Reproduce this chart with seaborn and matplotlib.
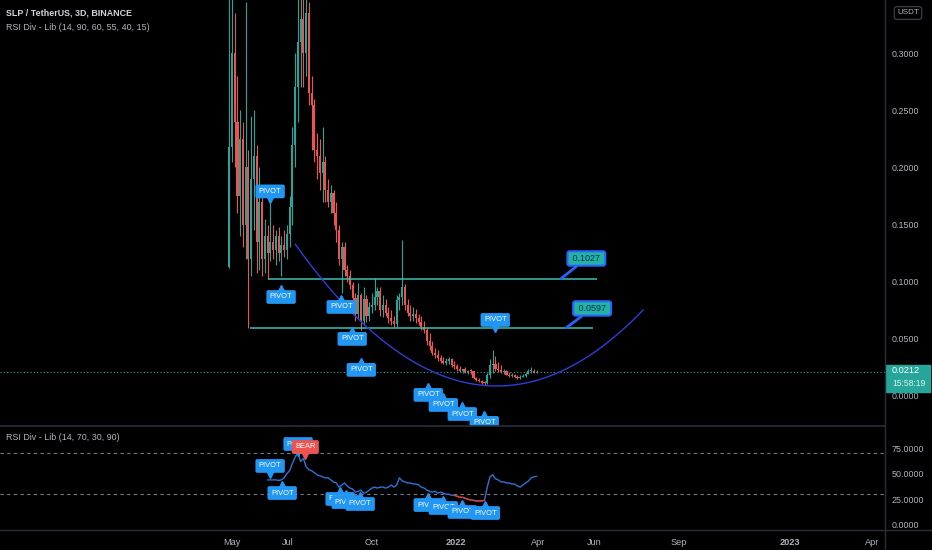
import numpy as np
import pandas as pd
import matplotlib
matplotlib.use('Agg')
import matplotlib.pyplot as plt
import matplotlib.dates as mdates
import matplotlib.transforms as mtransforms
from matplotlib.lines import Line2D
from matplotlib.patches import Rectangle
import seaborn as sns

# ---------------- data ----------------
start_date = '2021-04-28'      # first 3D candle
bar_days = 3

opens = [0.113, 0.218, 0.30, 0.24, 0.175, 0.225, 0.15, 0.20, 0.12, 0.19,
         0.21, 0.135, 0.17, 0.12, 0.14, 0.125, 0.135, 0.128, 0.14, 0.125,
         0.132, 0.128, 0.142, 0.165, 0.22, 0.27, 0.31, 0.33, 0.30, 0.335,
         0.265, 0.255, 0.215, 0.21, 0.195, 0.205, 0.18, 0.17, 0.178, 0.16,
         0.145, 0.12, 0.13, 0.11, 0.105, 0.097, 0.086, 0.072, 0.088, 0.066,
         0.085, 0.07, 0.078, 0.08, 0.087, 0.092, 0.075, 0.08, 0.073, 0.068,
         0.066, 0.063, 0.084, 0.087, 0.095, 0.08, 0.073, 0.07, 0.072, 0.068,
         0.065, 0.06, 0.058, 0.048, 0.044, 0.038, 0.036, 0.033, 0.031, 0.029,
         0.031, 0.032, 0.027, 0.026, 0.024, 0.022, 0.0235, 0.021, 0.022, 0.0215,
         0.016, 0.014, 0.013, 0.0115, 0.011, 0.018, 0.027, 0.028, 0.024, 0.023,
         0.021, 0.022, 0.0185, 0.0175, 0.0185, 0.0165, 0.0155, 0.017, 0.0175, 0.0195,
         0.0215, 0.022, 0.0205]
highs = [0.36, 0.36, 0.335, 0.28, 0.25, 0.24, 0.345, 0.215, 0.245, 0.25,
         0.22, 0.20, 0.18, 0.155, 0.15, 0.169, 0.15, 0.145, 0.148, 0.14,
         0.145, 0.15, 0.175, 0.235, 0.30, 0.36, 0.36, 0.36, 0.35, 0.345,
         0.28, 0.26, 0.23, 0.225, 0.235, 0.21, 0.19, 0.185, 0.18, 0.17,
         0.15, 0.135, 0.135, 0.115, 0.11, 0.10, 0.09, 0.099, 0.09, 0.095,
         0.088, 0.082, 0.09, 0.103, 0.095, 0.095, 0.088, 0.085, 0.078, 0.075,
         0.07, 0.088, 0.09, 0.1365, 0.098, 0.085, 0.08, 0.078, 0.076, 0.072,
         0.07, 0.066, 0.06, 0.055, 0.048, 0.042, 0.04, 0.036, 0.034, 0.033,
         0.034, 0.033, 0.031, 0.028, 0.026, 0.024, 0.025, 0.023, 0.0235, 0.022,
         0.017, 0.016, 0.014, 0.013, 0.02, 0.032, 0.040, 0.035, 0.03, 0.027,
         0.024, 0.023, 0.021, 0.02, 0.019, 0.018, 0.018, 0.019, 0.021, 0.024,
         0.025, 0.024, 0.023]
lows = [0.112, 0.205, 0.20, 0.16, 0.14, 0.13, 0.12, 0.0597, 0.105, 0.145,
        0.108, 0.11, 0.105, 0.108, 0.1027, 0.118, 0.12, 0.115, 0.118, 0.105,
        0.122, 0.12, 0.13, 0.15, 0.20, 0.24, 0.27, 0.27, 0.28, 0.255,
        0.215, 0.205, 0.19, 0.18, 0.17, 0.17, 0.165, 0.16, 0.15, 0.135,
        0.115, 0.09, 0.105, 0.10, 0.094, 0.083, 0.066, 0.068, 0.058, 0.062,
        0.065, 0.066, 0.073, 0.075, 0.08, 0.07, 0.069, 0.07, 0.064, 0.062,
        0.06, 0.06, 0.075, 0.08, 0.075, 0.07, 0.066, 0.066, 0.064, 0.062,
        0.058, 0.055, 0.045, 0.04, 0.036, 0.033, 0.031, 0.029, 0.028, 0.027,
        0.028, 0.025, 0.024, 0.022, 0.021, 0.0205, 0.02, 0.0195, 0.019, 0.015,
        0.0135, 0.012, 0.0105, 0.0095, 0.0105, 0.016, 0.02, 0.022, 0.021, 0.02,
        0.0195, 0.018, 0.017, 0.0165, 0.016, 0.015, 0.015, 0.0162, 0.017, 0.019,
        0.02, 0.02, 0.0198]
closes = [0.218, 0.30, 0.24, 0.175, 0.225, 0.15, 0.20, 0.12, 0.19, 0.21,
          0.135, 0.17, 0.12, 0.14, 0.125, 0.135, 0.128, 0.14, 0.125, 0.132,
          0.128, 0.142, 0.165, 0.22, 0.27, 0.31, 0.33, 0.30, 0.335, 0.265,
          0.255, 0.215, 0.21, 0.195, 0.205, 0.18, 0.17, 0.178, 0.16, 0.145,
          0.12, 0.13, 0.11, 0.105, 0.097, 0.086, 0.072, 0.088, 0.066, 0.085,
          0.07, 0.078, 0.08, 0.087, 0.092, 0.075, 0.08, 0.073, 0.068, 0.066,
          0.063, 0.084, 0.087, 0.095, 0.08, 0.073, 0.07, 0.072, 0.068, 0.065,
          0.06, 0.058, 0.048, 0.044, 0.038, 0.036, 0.033, 0.031, 0.029, 0.031,
          0.032, 0.027, 0.026, 0.024, 0.022, 0.0235, 0.021, 0.022, 0.0215, 0.016,
          0.014, 0.013, 0.0115, 0.011, 0.018, 0.027, 0.028, 0.024, 0.023, 0.021,
          0.022, 0.0185, 0.0175, 0.0185, 0.0165, 0.0155, 0.017, 0.0175, 0.0195, 0.0215,
          0.022, 0.0205, 0.0212]

rsi_first_bar = 14
rsi_values = [44, 44, 44, 44, 43.5, 44, 46, 50, 53, 60,
              66, 71, 62, 65, 57, 54, 53, 51, 49, 48,
              47, 46, 46, 44, 42, 41, 37, 39, 41, 38,
              36, 35, 32, 33, 34, 31, 32, 34, 36, 37,
              36, 37, 37, 36, 37, 39, 37, 39, 46, 43,
              42, 41, 41, 40, 40, 39, 37, 36, 34, 33,
              32, 33, 31, 32, 31, 30, 30, 29, 29, 28,
              27, 27, 26, 25, 24.5, 24, 23.5, 23.5, 23.5, 24,
              37, 47, 49, 45, 44, 42, 42, 41, 41, 40,
              40, 38, 37, 39, 41, 43, 46, 47, 47.5]
rsi_red_bars = [82, 93]          # divergence segment drawn in red
rsi_levels = [70, 30]

level_prices = [0.1027, 0.0597]
level_start_bars = [14, 7.7]
level_end_bars = [134.1, 132.6]
callout_texts = ['0.1027', '0.0597']
callout_box_bars = [130.1, 132.2]
callout_box_prices = [0.1203, 0.0766]
callout_tip_bars = [120.9, 122.8]

# curve drawing: start, control, end
curve_bars = [24.0, 87.8, 150.8]
curve_prices = [0.133, -0.0823, 0.0753]

price_pivot_bars = [14.9, 18.9, 40.8, 44.8, 48.1, 96.9, 72.5, 78.0, 84.9, 92.9]
price_pivot_values = [0.1685, 0.0971, 0.0884, 0.0604, 0.0333, 0.0560,
                      0.0114, 0.0026, -0.0053, -0.0131]
price_pivot_dirs = ['down', 'up', 'up', 'up', 'up', 'down', 'up', 'up', 'up', 'up']

rsi_label_bars = [14.9, 19.3, 25.1, 27.7, 40.4, 42.6, 47.7, 72.5, 78.0, 84.9, 93.3]
rsi_label_values = [45.9, 42.9, 67.3, 64.4, 37.1, 34.1, 32.2, 31.2, 28.3, 24.4, 23.4]
rsi_label_texts = ['PIVOT', 'PIVOT', 'PIVOT', 'BEAR', 'PIVOT', 'PIVOT', 'PIVOT',
                   'PIVOT', 'PIVOT', 'PIVOT', 'PIVOT']
rsi_label_dirs = ['down', 'up', 'down', 'down', 'up', 'up', 'up', 'up', 'up', 'up', 'up']

last_price = 0.0212
countdown = '15:58:19'

price_ticks = [0.0, 0.05, 0.10, 0.15, 0.20, 0.25, 0.30]
rsi_ticks = [0, 25, 50, 75]
time_ticks = ['2021-05-01', '2021-07-01', '2021-10-01', '2022-01-01', '2022-04-01',
              '2022-06-01', '2022-09-01', '2023-01-01', '2023-04-01']
time_labels = ['May', 'Jul', 'Oct', '2022', 'Apr', 'Jun', 'Sep', '2023', 'Apr']
view_dates = ['2020-08-20 12:00', '2023-04-14 16:00']

# ---------------- style ----------------
BG = '#000000'
TXT = '#b2b5be'
UP = '#26a69a'
DOWN = '#ef5350'
LBL = '#2196f3'
SEP = '#2a2e39'

sns.set_theme(style='dark', rc={'axes.facecolor': BG, 'figure.facecolor': BG})
plt.rcParams['font.family'] = ['Liberation Sans', 'DejaVu Sans']

W, H = 932, 550
fig = plt.figure(figsize=(W / 100, H / 100), dpi=100, facecolor=BG)
ax = fig.add_axes([0, 1 - 426 / H, 885 / W, 426 / H])
ax_rsi = fig.add_axes([0, 1 - 530 / H, 885 / W, 104 / H])

base = mdates.date2num(pd.Timestamp(start_date))


def bar_x(b):
    return base + bar_days * np.asarray(b, dtype=float)


def pivot_label(a, x, y, text, color, direction, z):
    sgn = -1 if direction == 'up' else 1
    tri = mtransforms.offset_copy(a.transData, fig=fig, x=0, y=sgn * 4, units='dots')
    a.plot(x, y, marker='^' if direction == 'up' else 'v', ms=6, color=color,
           transform=tri, zorder=z, clip_on=False)
    a.annotate(text, xy=(x, y), xytext=(0, sgn * 12 * 0.72), textcoords='offset points',
               ha='center', va='center', fontsize=5.4, color='white', zorder=z,
               annotation_clip=False,
               bbox=dict(boxstyle='round,pad=0.45,rounding_size=0.25', fc=color, ec='none'))


# ---------------- price pane ----------------
o, h, l, c = map(np.array, (opens, highs, lows, closes))
xs = bar_x(np.arange(len(o)))
col = np.where(c >= o, UP, DOWN)
ax.vlines(xs, l, h, colors=col, lw=0.8, zorder=3)
ax.bar(xs, np.maximum(np.abs(c - o), 0.0008), bottom=np.minimum(o, c), width=2.3,
       color=col, lw=0, zorder=3)

ax.hlines(level_prices, bar_x(level_start_bars), bar_x(level_end_bars),
          colors='#3cbfb2', lw=1.1, zorder=4)

t = np.linspace(0, 1, 200)
cx, cy = bar_x(curve_bars), np.array(curve_prices)
ax.plot((1 - t) ** 2 * cx[0] + 2 * t * (1 - t) * cx[1] + t ** 2 * cx[2],
        (1 - t) ** 2 * cy[0] + 2 * t * (1 - t) * cy[1] + t ** 2 * cy[2],
        color='#2d3ed6', lw=1.0, zorder=4)

for txt, bb, bp, tb, tp in zip(callout_texts, callout_box_bars, callout_box_prices,
                               callout_tip_bars, level_prices):
    ax.annotate(' ' + txt + ' ', xy=(bar_x(tb), tp), xytext=(bar_x(bb), bp),
                ha='center', va='center', fontsize=6.5, color='#0c2a5a', zorder=6,
                bbox=dict(boxstyle='round,pad=0.3,rounding_size=0.25', fc='#21b3a4',
                          ec='#2962ff', lw=1.5),
                arrowprops=dict(arrowstyle='-', color='#2962ff', lw=2, shrinkA=0, shrinkB=0))

ax.axhline(last_price, color=UP, ls=(0, (1, 2)), lw=0.8, zorder=2)

for i, (b, v, d) in enumerate(zip(price_pivot_bars, price_pivot_values, price_pivot_dirs)):
    pivot_label(ax, bar_x(b), v, 'PIVOT', LBL, d, 10 + i)

ax.set_ylim(-0.0263, 0.3465)
ax.set_yticks(price_ticks)
ax.set_yticklabels([f'{v:.4f}' for v in price_ticks])
ax.set_xticks([])

# ---------------- RSI pane ----------------
rsi_bars = np.arange(rsi_first_bar, rsi_first_bar + len(rsi_values))
df = pd.DataFrame({'x': bar_x(rsi_bars), 'rsi': rsi_values})
sns.lineplot(data=df, x='x', y='rsi', ax=ax_rsi, color='#2f72d6', lw=1.0, zorder=3)
red = df[(rsi_bars >= rsi_red_bars[0]) & (rsi_bars <= rsi_red_bars[1])]
sns.lineplot(data=red, x='x', y='rsi', ax=ax_rsi, color='#e53935', lw=1.0, zorder=4)
for lv in rsi_levels:
    ax_rsi.axhline(lv, color='#787b86', ls=(0, (3, 3)), lw=0.8, zorder=1)

for i, (b, v, txt, d) in enumerate(zip(rsi_label_bars, rsi_label_values,
                                       rsi_label_texts, rsi_label_dirs)):
    pivot_label(ax_rsi, bar_x(b), v, txt, DOWN if txt == 'BEAR' else LBL, d, 10 + i)

ax_rsi.set_ylim(-4.9, 96.6)
ax_rsi.set_yticks(rsi_ticks)
ax_rsi.set_yticklabels([f'{v:.4f}' for v in rsi_ticks])
ax_rsi.set_xlabel('')
ax_rsi.set_ylabel('')
ax_rsi.set_xticks(mdates.date2num(pd.to_datetime(time_ticks)))
ax_rsi.set_xticklabels(time_labels)
ax_rsi.tick_params(axis='x', length=0, pad=6, labelsize=6.6, labelcolor=TXT)
for lab in ax_rsi.get_xticklabels():
    if lab.get_text().isdigit():
        lab.set_fontweight('bold')

xl = mdates.date2num(pd.to_datetime(view_dates))
for a in (ax, ax_rsi):
    a.set_facecolor(BG)
    a.set_xlim(xl[0], xl[1])
    a.grid(False)
    for s in a.spines.values():
        s.set_visible(False)
    a.yaxis.tick_right()
    a.tick_params(axis='y', length=0, pad=5, labelsize=6.4, labelcolor=TXT)

# separators
fig.add_artist(Line2D([0, 885 / W], [1 - 426 / H] * 2, color=SEP, lw=1.2, transform=fig.transFigure))
fig.add_artist(Line2D([0, 1], [1 - 530 / H] * 2, color=SEP, lw=1.0, transform=fig.transFigure))
fig.add_artist(Line2D([885 / W] * 2, [0, 1], color=SEP, lw=1.0, transform=fig.transFigure))

# texts
fig.text(6 / W, 1 - 13 / H, 'SLP / TetherUS, 3D, BINANCE', fontsize=6.4, fontweight='bold',
         color='#d1d4dc', va='center')
fig.text(6 / W, 1 - 27 / H, 'RSI Div - Lib (14, 90, 60, 55, 40, 15)', fontsize=6.4,
         color=TXT, va='center')
fig.text(6 / W, 1 - 438 / H, 'RSI Div - Lib (14, 70, 30, 90)', fontsize=6.4,
         color=TXT, va='center')
fig.text(908 / W, 1 - 13 / H, 'USDT', fontsize=5.8, color=TXT, ha='center', va='center',
         bbox=dict(boxstyle='round,pad=0.35,rounding_size=0.3', fc=BG, ec='#434651', lw=0.8))

# last price tag on the price scale
fig.canvas.draw()
py = ax.transData.transform((xl[0], last_price))[1]
fig.add_artist(Rectangle((886 / W, (py - 7) / H - 13 / H), 44 / W, 27 / H, color=UP,
                         transform=fig.transFigure))
fig.text(892 / W, (py + 1) / H, f'{last_price:.4f}', fontsize=6.6, color='white',
         va='center')
fig.text(892 / W, (py - 12) / H, countdown, fontsize=6.2, color='#d8f3ef', va='center')

fig.savefig('out.png', dpi=100, facecolor=BG)
